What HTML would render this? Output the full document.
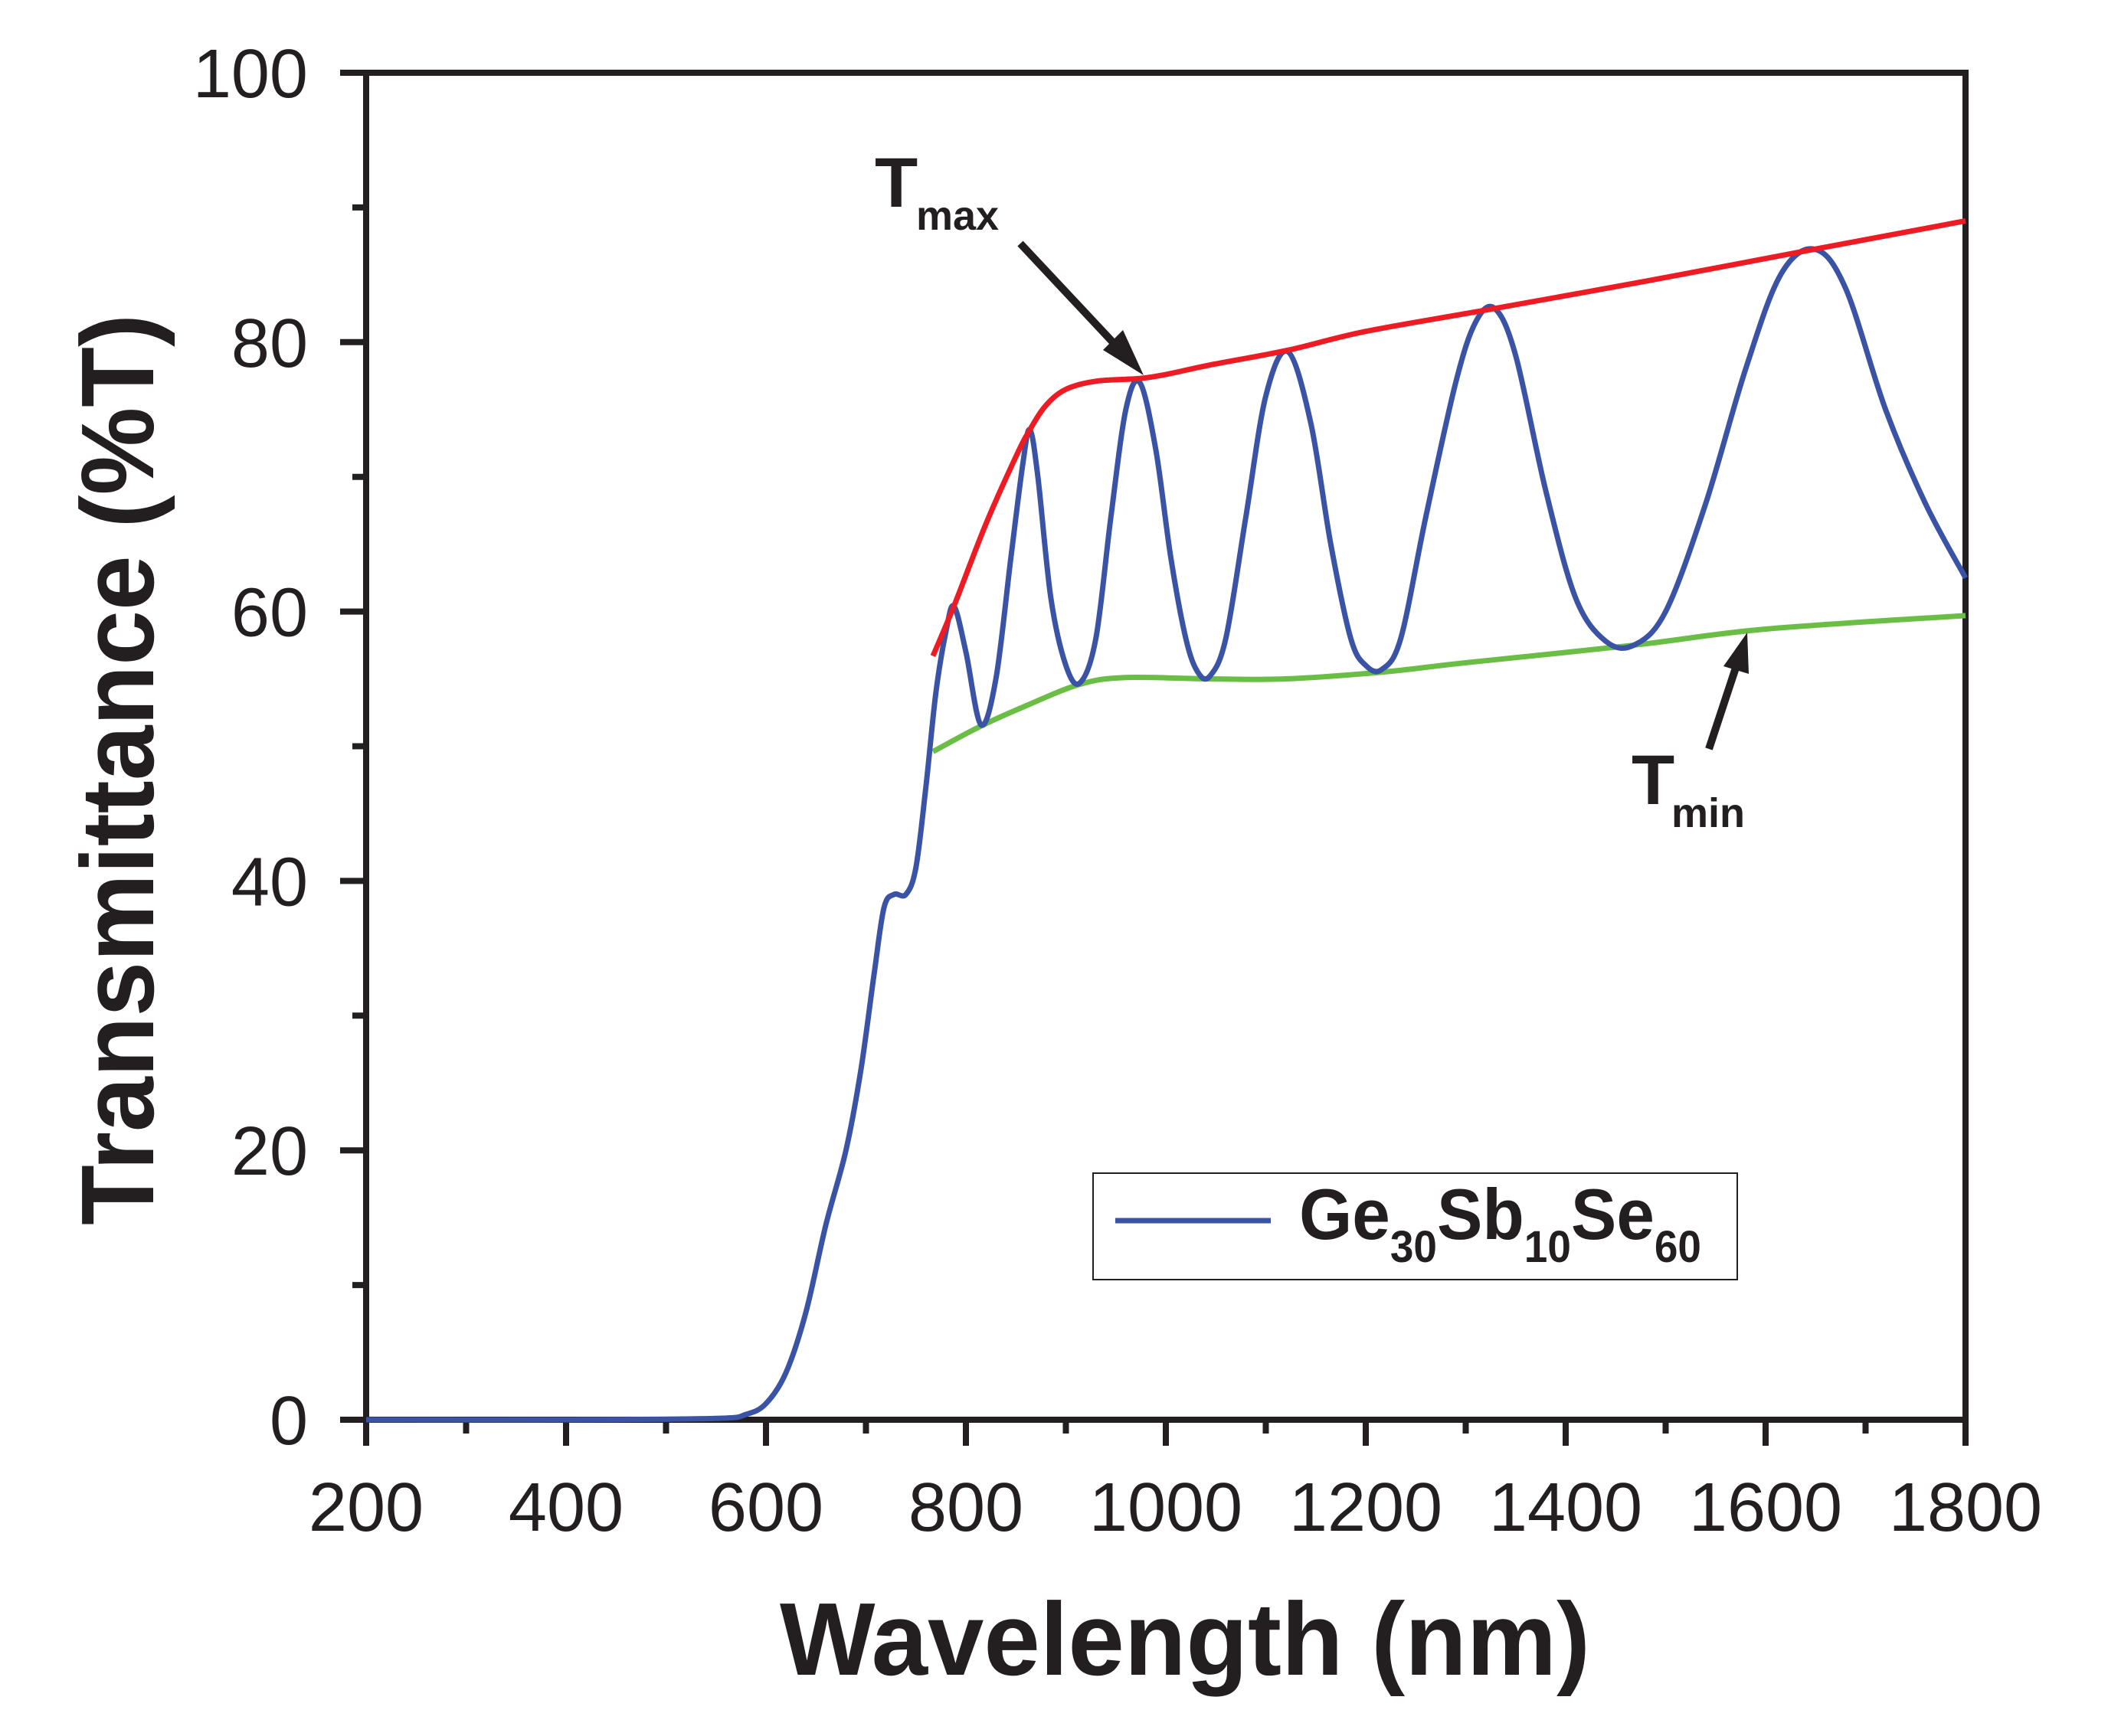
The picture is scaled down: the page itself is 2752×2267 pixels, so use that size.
<!DOCTYPE html>
<html><head><meta charset="utf-8"><style>
html,body{margin:0;padding:0;background:#fff;}
svg{display:block;}
text{font-family:"Liberation Sans",sans-serif;fill:#231f20;}
</style></head><body>
<svg id="chart" width="2752" height="2267" viewBox="0 0 2752 2267">
<g id="axes"></g>
<g id="series"></g>
<g>
  <text x="1142" y="270" font-size="92" font-weight="bold">T</text>
  <text x="1196" y="300" font-size="54" font-weight="bold">max</text>
  <line x1="1332" y1="318" x2="1466" y2="461" stroke="#231f20" stroke-width="10"/>
  <polygon points="1493,490 1440,457 1466,431" fill="#231f20"/>
</g>
<g>
  <text x="2130" y="1050" font-size="92" font-weight="bold">T</text>
  <text x="2182" y="1080" font-size="54" font-weight="bold">min</text>
  <line x1="2231" y1="978" x2="2270" y2="860" stroke="#231f20" stroke-width="10"/>
  <polygon points="2281,826 2283,880 2250,870" fill="#231f20"/>
</g>
<g>
  <rect x="1427" y="1532" width="841" height="139" fill="#fff" stroke="#231f20" stroke-width="2"/>
  <line x1="1456" y1="1594" x2="1659" y2="1594" stroke="#3a53a4" stroke-width="7"/>
  <text x="1696" y="1618" font-size="94" font-weight="bold" textLength="525" lengthAdjust="spacingAndGlyphs">Ge<tspan font-size="58" dy="30">30</tspan><tspan dy="-30">Sb</tspan><tspan font-size="58" dy="30">10</tspan><tspan dy="-30">Se</tspan><tspan font-size="58" dy="30">60</tspan></text>
</g>
<text x="1547" y="2187" font-size="135" font-weight="bold" text-anchor="middle" textLength="1058" lengthAdjust="spacingAndGlyphs">Wavelength (nm)</text>
<text transform="translate(200,1005) rotate(-90)" font-size="135" font-weight="bold" text-anchor="middle" textLength="1190" lengthAdjust="spacingAndGlyphs">Transmittance (%T)</text>
</svg>
<script>
const blueX=[200,400,550,580,600,620,640,660,680,695,708,718,728,740,750,760,770,780,788,800,815,830,845,857,864,872,885,900,914,930,945,960,974,990,1005,1020,1032,1044,1060,1080,1100,1122,1145,1165,1185,1200,1216,1235,1260,1290,1310,1329,1350,1380,1410,1440,1468,1500,1540,1580,1615,1649,1680,1720,1760,1800];
const blueY=[0,0,0.1,0.4,1.2,3.5,8,14.5,20,26,33,38,39,39,41,47,54,58.5,60.4,57,51.6,55,64,71,73.5,70,61,56,54.7,58,67,75,77,72,64,58,55.5,55.2,58,67,76,79.3,74,65,58,56,55.7,58,67,77,81.5,82.5,79,69,61,57.8,57.5,60,68,78,85,86.9,84,75,68,62.5];
const tmaxX=[767,788,820,850,864,880,900,930,974,1000,1044,1122,1200,1329,1500,1649,1800];
const tmaxY=[56.7,60.4,66.5,71.5,73.5,75.3,76.5,77.1,77.3,77.6,78.3,79.4,80.8,82.5,84.8,86.9,89];
const tminX=[767,815,860,914,960,1044,1120,1216,1300,1468,1600,1800];
const tminY=[49.6,51.5,53,54.6,55.1,55,55,55.5,56.2,57.5,58.7,59.7];
const xTicks=[200,400,600,800,1000,1200,1400,1600,1800];
const yTicks=[0,20,40,60,80,100];

const L=478,R=2566,T=95,B=1854;
const sx=v=>L+(v-200)/1600*(R-L);
const sy=v=>B-v/100*(B-T);
const NS='http://www.w3.org/2000/svg';
function mk(tag,attrs,parent){const e=document.createElementNS(NS,tag);for(const k in attrs)e.setAttribute(k,attrs[k]);parent.appendChild(e);return e;}
const ax=document.getElementById('axes');
let e=mk('rect',{x:L,y:T,width:R-L,height:B-T,fill:'none',stroke:'#231f20','stroke-width':8},ax);


for(let v=200;v<=1800;v+=100){
  const major=xTicks.includes(v);
  e=mk('line',{x1:sx(v),x2:sx(v),y1:B,y2:B+(major?34:18),stroke:'#231f20','stroke-width':8},ax);
  
  
}
xTicks.forEach(v=>{
  e=mk('text',{x:sx(v),y:1999,'font-size':90,'text-anchor':'middle'},ax);
  e.textContent=v;
  
  
});
for(let v=0;v<=100;v+=10){
  const major=yTicks.includes(v);
  e=mk('line',{x1:L-(major?34:18),x2:L,y1:sy(v),y2:sy(v),stroke:'#231f20','stroke-width':8},ax);
  
  
}
yTicks.forEach(v=>{
  e=mk('text',{x:402,y:sy(v)+32,'font-size':90,'text-anchor':'end'},ax);
  e.textContent=v;
  
  
});
function smoothPath(xs,ys){
  const p=xs.map((x,i)=>[sx(x),sy(ys[i])]);
  let d='M'+p[0][0]+','+p[0][1];
  for(let i=0;i<p.length-1;i++){
    const p0=p[Math.max(0,i-1)],p1=p[i],p2=p[i+1],p3=p[Math.min(p.length-1,i+2)];
    const c1=[p1[0]+(p2[0]-p0[0])/6,p1[1]+(p2[1]-p0[1])/6];
    const c2=[p2[0]-(p3[0]-p1[0])/6,p2[1]-(p3[1]-p1[1])/6];
    d+=' C'+c1[0]+','+c1[1]+' '+c2[0]+','+c2[1]+' '+p2[0]+','+p2[1];
  }
  return d;
}
const sg=document.getElementById('series');
e=mk('path',{d:smoothPath(tminX,tminY),fill:'none',stroke:'#6abd45','stroke-width':7},sg);


e=mk('path',{d:smoothPath(blueX,blueY),fill:'none',stroke:'#3a53a4','stroke-width':7},sg);


e=mk('path',{d:smoothPath(tmaxX,tmaxY),fill:'none',stroke:'#ed1c24','stroke-width':7},sg);


</script>
</body></html>
